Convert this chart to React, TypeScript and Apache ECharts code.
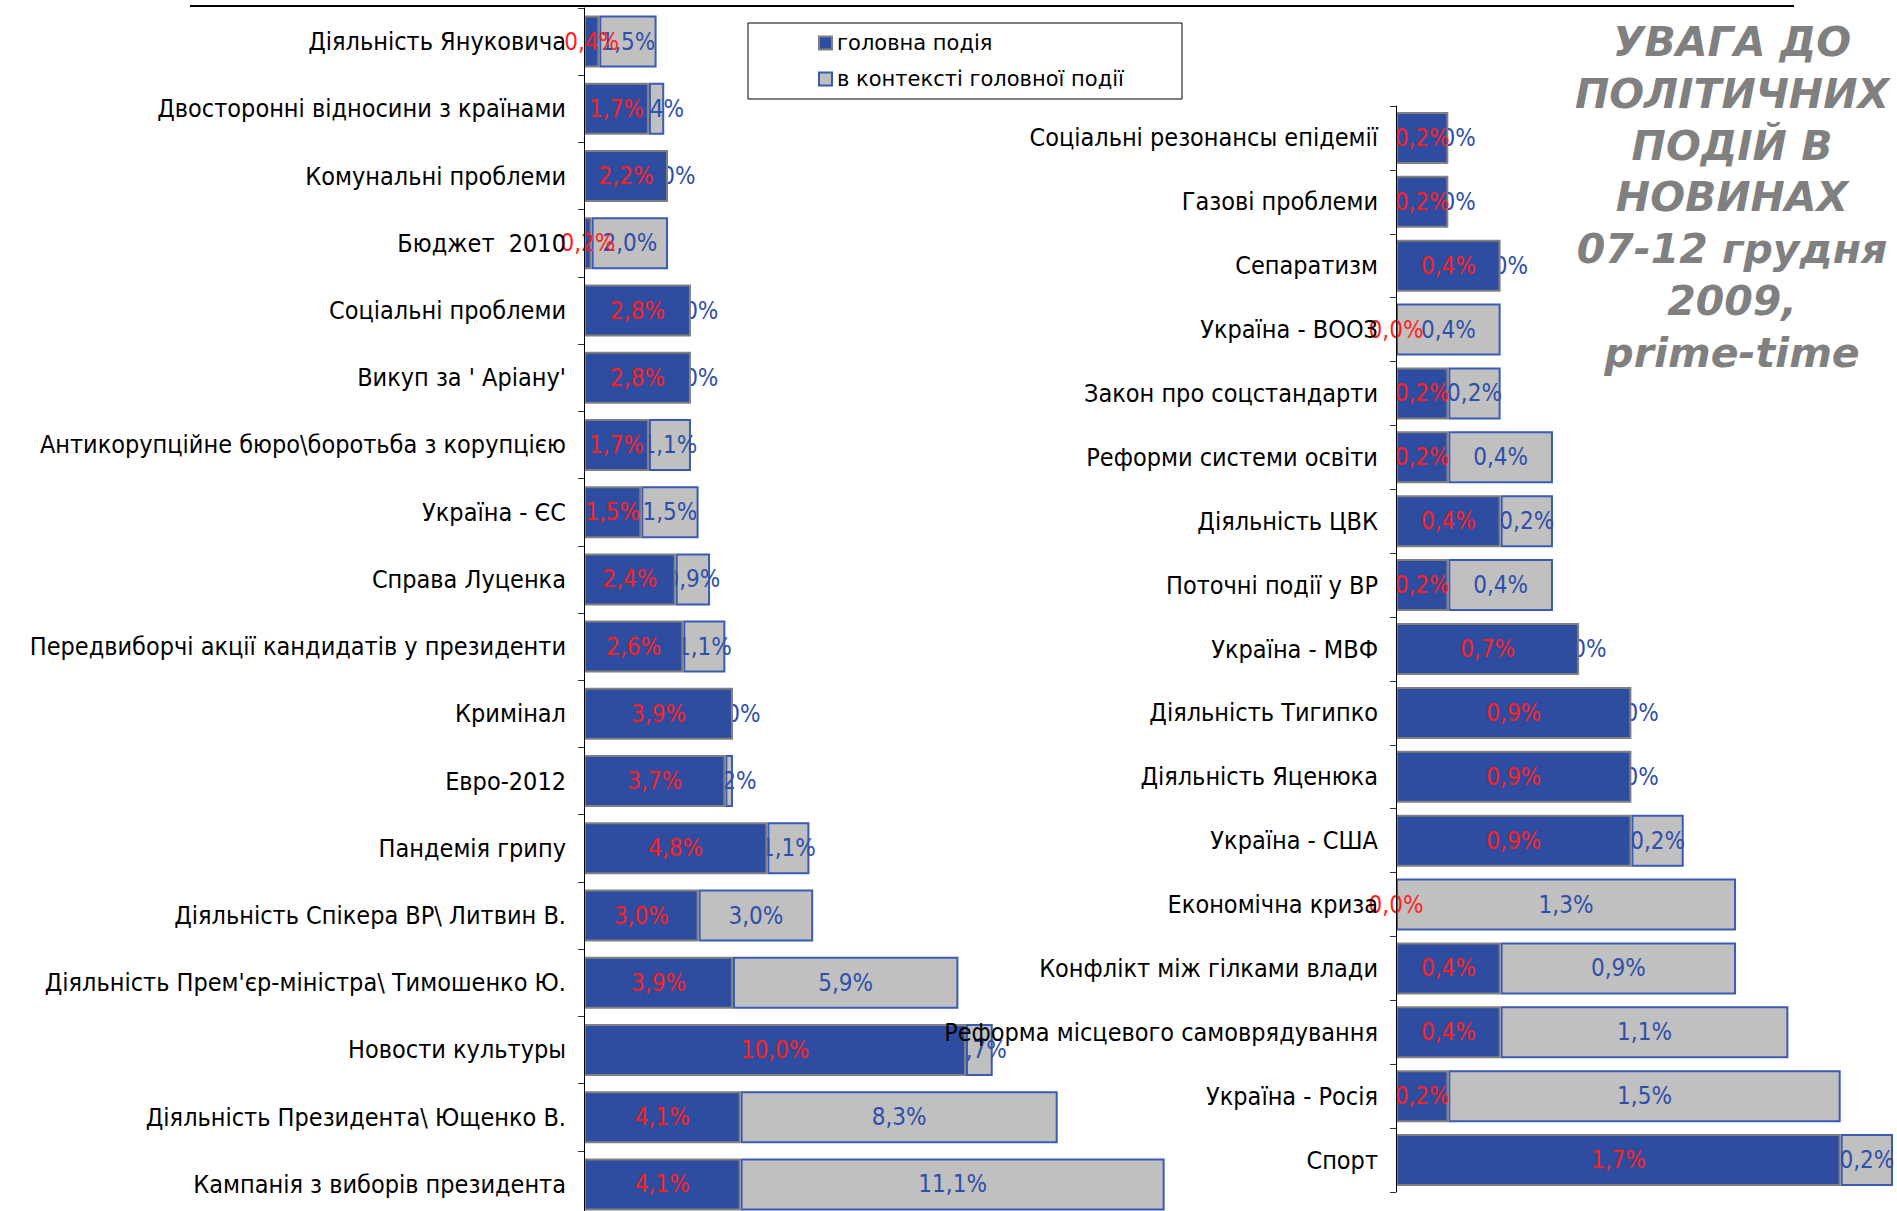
import React, { useEffect, useRef } from "react";
import * as echarts from "echarts";

const leftCategories = [
  "Діяльність Януковича",
  "Двосторонні відносини з країнами",
  "Комунальні проблеми",
  "Бюджет  2010",
  "Соціальні проблеми",
  "Викуп за ' Аріану'",
  "Антикорупційне бюро\\боротьба з корупцією",
  "Україна - ЄС",
  "Справа Луценка",
  "Передвиборчі акції кандидатів у президенти",
  "Кримінал",
  "Евро-2012",
  "Пандемія грипу",
  "Діяльність Спікера ВР\\ Литвин В.",
  "Діяльність Прем'єр-міністра\\ Тимошенко Ю.",
  "Новости культуры",
  "Діяльність Президента\\ Ющенко В.",
  "Кампанія з виборів президента",
];
const leftMain = [0.4, 1.7, 2.2, 0.2, 2.8, 2.8, 1.7, 1.5, 2.4, 2.6, 3.9, 3.7, 4.8, 3.0, 3.9, 10.0, 4.1, 4.1];
const leftContext = [1.5, 0.4, 0.0, 2.0, 0.0, 0.0, 1.1, 1.5, 0.9, 1.1, 0.0, 0.2, 1.1, 3.0, 5.9, 0.7, 8.3, 11.1];

const rightCategories = [
  "Соціальні резонансы епідемії",
  "Газові проблеми",
  "Сепаратизм",
  "Україна - ВООЗ",
  "Закон про соцстандарти",
  "Реформи системи освіти",
  "Діяльність ЦВК",
  "Поточні події у ВР",
  "Україна - МВФ",
  "Діяльність Тигипко",
  "Діяльність Яценюка",
  "Україна - США",
  "Економічна криза",
  "Конфлікт між гілками влади",
  "Реформа місцевого самоврядування",
  "Україна - Росія",
  "Спорт",
];
const rightMain = [0.2, 0.2, 0.4, 0.0, 0.2, 0.2, 0.4, 0.2, 0.7, 0.9, 0.9, 0.9, 0.0, 0.4, 0.4, 0.2, 1.7];
const rightContext = [0.0, 0.0, 0.0, 0.4, 0.2, 0.4, 0.2, 0.4, 0.0, 0.0, 0.0, 0.2, 1.3, 0.9, 1.1, 1.5, 0.2];

const seriesNames = ["головна подія", "в контексті головної події"];
const titleLines = ["УВАГА ДО", "ПОЛІТИЧНИХ", "ПОДІЙ В", "НОВИНАХ", "07-12 грудня", "2009,", "prime-time"];

const NARROW = "'DejaVu Sans Condensed', 'Liberation Sans Narrow', 'Arial Narrow', sans-serif";
const BLUE = "#2E4DA0";
const GREY = "#C0C0C0";
const RED_LABEL = "#FF1F1F";
const BLUE_LABEL = "#2F4FAA";

const fmt = (p: any) => Number(p.value).toFixed(1).replace(".", ",") + "%";

function makeData(values: number[], borderColor: string) {
  return values.map((v) => ({
    value: v,
    itemStyle: { borderWidth: v === 0 ? 0 : 2, borderColor },
  }));
}

export default function App() {
  const ref = useRef<HTMLDivElement>(null);
  useEffect(() => {
    document.body.style.margin = "0";
    if (!ref.current) return;
    const chart = echarts.init(ref.current, undefined, { renderer: "svg" });

    const axisCommon = {
      type: "category" as const,
      inverse: true,
      z: 6,
      axisLine: { show: true, lineStyle: { color: "#000", width: 1 } },
      axisTick: { show: true, inside: false, length: 6, lineStyle: { color: "#333" } },
      axisLabel: { color: "#000", fontSize: 25, fontFamily: NARROW, margin: 18 },
      splitLine: { show: false },
    };

    const mainStyle = { color: BLUE, borderColor: "#808080", borderWidth: 2 };
    const ctxStyle = { color: GREY, borderColor: "#3A5BB5", borderWidth: 2 };
    const mainLabel = { show: true, position: "inside", color: RED_LABEL, fontSize: 24, fontFamily: NARROW, formatter: fmt };
    const ctxLabel = { show: true, position: "inside", color: BLUE_LABEL, fontSize: 24, fontFamily: NARROW, formatter: fmt };

    chart.setOption({
      animation: false,
      backgroundColor: "#fff",
      grid: [
        { left: 584, top: 8, width: 764, height: 1210, containLabel: false, outerBoundsMode: "none" },
        { left: 1396, top: 106, width: 497, height: 1086, containLabel: false, outerBoundsMode: "none" },
      ],
      xAxis: [
        { type: "value", gridIndex: 0, min: 0, max: 20, show: false },
        { type: "value", gridIndex: 1, min: 0, max: 1.9, show: false },
      ],
      yAxis: [
        { ...axisCommon, gridIndex: 0, data: leftCategories },
        { ...axisCommon, gridIndex: 1, data: rightCategories },
      ],
      legend: {
        left: 818,
        top: 31,
        orient: "vertical",
        padding: 0,
        itemWidth: 13,
        itemHeight: 13,
        itemGap: 12,
        icon: "rect",
        data: seriesNames,
        textStyle: { color: "#000", fontSize: 21, fontFamily: "'DejaVu Sans', sans-serif", lineHeight: 24 },
      },
      series: [
        {
          type: "bar", name: seriesNames[0], xAxisIndex: 0, yAxisIndex: 0, stack: "L",
          barWidth: 52, z: 3, itemStyle: mainStyle, label: mainLabel,
          data: makeData(leftMain, "#808080"),
        },
        {
          type: "bar", name: seriesNames[1], xAxisIndex: 0, yAxisIndex: 0, stack: "L",
          barWidth: 52, z: 2, itemStyle: ctxStyle, label: ctxLabel,
          data: makeData(leftContext, "#3A5BB5"),
        },
        {
          type: "bar", name: seriesNames[0], xAxisIndex: 1, yAxisIndex: 1, stack: "R",
          barWidth: 52, z: 3, itemStyle: mainStyle, label: mainLabel,
          data: makeData(rightMain, "#808080"),
        },
        {
          type: "bar", name: seriesNames[1], xAxisIndex: 1, yAxisIndex: 1, stack: "R",
          barWidth: 52, z: 2, itemStyle: ctxStyle, label: ctxLabel,
          data: makeData(rightContext, "#3A5BB5"),
        },
      ],
      graphic: [
        { type: "line", shape: { x1: 190, y1: 6, x2: 1794, y2: 6 }, style: { stroke: "#000", lineWidth: 2 }, z: 10 },
        { type: "rect", shape: { x: 748, y: 23, width: 434, height: 76 }, style: { fill: "none", stroke: "#000", lineWidth: 1 }, z: 1 },
        ...titleLines.map((t, i) => ({
          type: "text",
          x: 1732,
          y: 42 + i * 51.8,
          style: {
            text: t,
            fill: "#808080",
            font: "italic bold 41px 'DejaVu Sans', Verdana, sans-serif",
            align: "center",
            verticalAlign: "middle",
          },
          z: 10,
        })),
      ],
    });
    return () => chart.dispose();
  }, []);
  return <div ref={ref} style={{ width: 1897, height: 1211 }} />;
}
